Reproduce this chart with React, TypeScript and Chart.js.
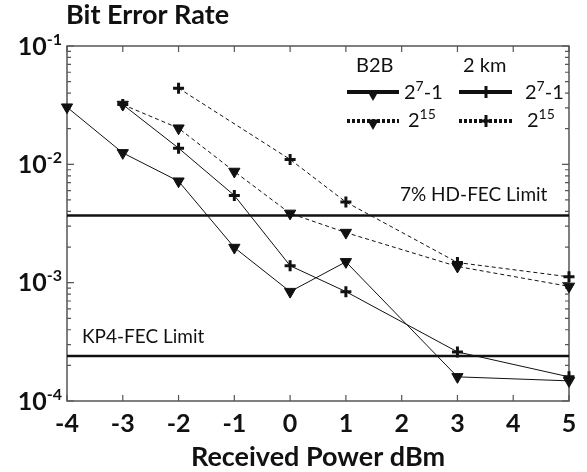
import React, { useEffect, useRef } from 'react';
import { Chart, registerables } from 'chart.js';

Chart.register(...registerables);

// ---- data ----
const powerB2B7 = [-4, -3, -2, -1, 0, 1, 3, 5];
const berB2B7 = [0.0304, 0.0125, 0.0072, 0.00198, 0.00084, 0.0015, 0.00016, 0.000148];

const power2km7 = [-3, -2, -1, 0, 1, 3, 5];
const ber2km7 = [0.032, 0.0137, 0.00546, 0.00139, 0.00084, 0.00026, 0.00016];

const powerB2B15 = [-3, -2, -1, 0, 1, 3, 5];
const berB2B15 = [0.032, 0.0202, 0.0087, 0.00385, 0.00265, 0.00137, 0.00093];

const power2km15 = [-2, 0, 1, 3, 5];
const ber2km15 = [0.044, 0.011, 0.0048, 0.00148, 0.00112];

const hdFecLimit = 0.0037;
const kp4FecLimit = 0.00024;

const xTicks = [-4, -3, -2, -1, 0, 1, 2, 3, 4, 5];
const xTickLabels = ['-4', '-3', '-2', '-1', '0', '1', '2', '3', '4', '5'];
const yDecades = [1e-4, 1e-3, 1e-2, 1e-1];
const yTickExponents = ['-4', '-3', '-2', '-1'];

const FONT = 'Lato, "Open Sans", sans-serif';
const INK = '#111111';
const FRAME = '#555555';

type Part = { text: string; sup?: boolean };

function drawRich(
  ctx: CanvasRenderingContext2D,
  parts: Part[],
  x: number,
  y: number,
  size: number,
  weight: string,
  align: 'left' | 'right' | 'center',
  supScale = 0.64
) {
  const supSize = size * supScale;
  const widths = parts.map((p) => {
    ctx.font = `${weight} ${p.sup ? supSize : size}px ${FONT}`;
    return ctx.measureText(p.text).width;
  });
  const total = widths.reduce((a, b) => a + b, 0);
  let cx = align === 'right' ? x - total : align === 'center' ? x - total / 2 : x;
  ctx.textAlign = 'left';
  ctx.textBaseline = 'alphabetic';
  parts.forEach((p, i) => {
    ctx.font = `${weight} ${p.sup ? supSize : size}px ${FONT}`;
    ctx.fillText(p.text, cx, p.sup ? y - size * 0.4 : y);
    cx += widths[i];
  });
}

function downTriangle(ctx: CanvasRenderingContext2D, x: number, y: number, r: number) {
  ctx.beginPath();
  for (let i = 0; i < 3; i++) {
    const a = Math.PI + (i * 2 * Math.PI) / 3;
    const px = x + Math.sin(a) * r;
    const py = y - Math.cos(a) * r;
    if (i === 0) ctx.moveTo(px, py);
    else ctx.lineTo(px, py);
  }
  ctx.closePath();
  ctx.fill();
}

function plusMark(ctx: CanvasRenderingContext2D, x: number, y: number, r: number, w: number) {
  ctx.lineWidth = w;
  ctx.beginPath();
  ctx.moveTo(x - r, y);
  ctx.lineTo(x + r, y);
  ctx.moveTo(x, y - r);
  ctx.lineTo(x, y + r);
  ctx.stroke();
}

const framePlugin = {
  id: 'frame',
  beforeDatasetsDraw(chart: any) {
    const ctx: CanvasRenderingContext2D = chart.ctx;
    const { left, right, top, bottom } = chart.chartArea;
    const xs = chart.scales.x;
    const ys = chart.scales.y;
    ctx.save();
    ctx.strokeStyle = FRAME;
    ctx.lineWidth = 1.5;
    ctx.strokeRect(left, top, right - left, bottom - top);

    ctx.lineWidth = 1.2;
    ctx.beginPath();
    xTicks.forEach((v) => {
      const px = xs.getPixelForValue(v);
      ctx.moveTo(px, bottom);
      ctx.lineTo(px, bottom - 6);
      ctx.moveTo(px, top);
      ctx.lineTo(px, top + 6);
    });
    yDecades.forEach((d, i) => {
      const py = ys.getPixelForValue(d);
      ctx.moveTo(left, py);
      ctx.lineTo(left + 7, py);
      ctx.moveTo(right, py);
      ctx.lineTo(right - 7, py);
      if (i < yDecades.length - 1) {
        for (let m = 2; m <= 9; m++) {
          const pm = ys.getPixelForValue(d * m);
          ctx.moveTo(left, pm);
          ctx.lineTo(left + 4, pm);
          ctx.moveTo(right, pm);
          ctx.lineTo(right - 4, pm);
        }
      }
    });
    ctx.stroke();
    ctx.restore();
  },
};

const decorPlugin = {
  id: 'decor',
  afterDraw(chart: any) {
    const ctx: CanvasRenderingContext2D = chart.ctx;
    const { left, right } = chart.chartArea;
    const xs = chart.scales.x;
    const ys = chart.scales.y;
    ctx.save();

    ctx.fillStyle = INK;
    // x tick labels
    ctx.font = `bold 25px ${FONT}`;
    ctx.textAlign = 'center';
    ctx.textBaseline = 'alphabetic';
    xTicks.forEach((v, i) => {
      ctx.fillText(xTickLabels[i], xs.getPixelForValue(v), 432);
    });

    // y tick labels with superscripts
    yDecades.forEach((d, i) => {
      const py = ys.getPixelForValue(d);
      drawRich(ctx, [{ text: '10' }, { text: yTickExponents[i], sup: true }], 62, py + 8.5, 25, 'bold', 'right');
    });

    // titles
    ctx.font = `bold 27px ${FONT}`;
    ctx.textAlign = 'left';
    ctx.fillText('Bit Error Rate', 66, 24);
    ctx.font = `bold 27px ${FONT}`;
    ctx.textAlign = 'center';
    ctx.fillText('Received Power dBm', (left + right) / 2, 466);

    // limit annotations
    ctx.font = `19px ${FONT}`;
    ctx.textAlign = 'left';
    ctx.fillText('7% HD-FEC Limit', 400, 201);
    ctx.fillText('KP4-FEC Limit', 82, 343);

    // legend
    ctx.font = `20px ${FONT}`;
    ctx.fillText('B2B', 356, 72);
    ctx.fillText('2 km', 463, 72);

    ctx.strokeStyle = INK;
    ctx.fillStyle = INK;
    // row 1 solid
    ctx.lineWidth = 4;
    ctx.setLineDash([]);
    ctx.beginPath();
    ctx.moveTo(347, 92);
    ctx.lineTo(399, 92);
    ctx.moveTo(459, 92);
    ctx.lineTo(512, 92);
    ctx.stroke();
    downTriangle(ctx, 373, 94, 7);
    plusMark(ctx, 486, 92, 6, 3);
    drawRich(ctx, [{ text: '2' }, { text: '7', sup: true }, { text: '-1' }], 404, 99, 20, 'normal', 'left', 0.7);
    drawRich(ctx, [{ text: '2' }, { text: '7', sup: true }, { text: '-1' }], 525, 99, 20, 'normal', 'left', 0.7);

    // row 2 dashed
    ctx.lineWidth = 4;
    ctx.setLineDash([3, 2]);
    ctx.beginPath();
    ctx.moveTo(347, 121);
    ctx.lineTo(399, 121);
    ctx.moveTo(459, 121);
    ctx.lineTo(512, 121);
    ctx.stroke();
    ctx.setLineDash([]);
    downTriangle(ctx, 373, 123, 7);
    plusMark(ctx, 486, 121, 6, 3);
    drawRich(ctx, [{ text: '2' }, { text: '15', sup: true }], 408, 127, 20, 'normal', 'left', 0.7);
    drawRich(ctx, [{ text: '2' }, { text: '15', sup: true }], 527, 127, 20, 'normal', 'left', 0.7);

    ctx.restore();
  },
};

function pts(xs: number[], ys: number[]) {
  return xs.map((x, i) => ({ x, y: ys[i] }));
}

export default function App() {
  const ref = useRef<HTMLCanvasElement | null>(null);

  useEffect(() => {
    document.body.style.margin = '0';
    if (!ref.current) return;
    const tri = {
      pointStyle: 'triangle' as const,
      rotation: 180,
      pointRadius: 6.5,
      pointBackgroundColor: INK,
      pointBorderColor: INK,
      pointBorderWidth: 1,
    };
    const plus = {
      pointStyle: 'cross' as const,
      pointRadius: 5.5,
      pointBackgroundColor: INK,
      pointBorderColor: INK,
      pointBorderWidth: 3,
    };
    const chart = new Chart(ref.current, {
      type: 'line',
      data: {
        datasets: [
          {
            label: 'HD-FEC',
            data: pts([-4, 5], [hdFecLimit, hdFecLimit]),
            borderColor: INK,
            borderWidth: 2.5,
            pointRadius: 0,
          },
          {
            label: 'KP4-FEC',
            data: pts([-4, 5], [kp4FecLimit, kp4FecLimit]),
            borderColor: INK,
            borderWidth: 2.5,
            pointRadius: 0,
          },
          {
            label: 'B2B 2^7-1',
            data: pts(powerB2B7, berB2B7),
            borderColor: INK,
            borderWidth: 1,
            clip: false,
            ...tri,
          },
          {
            label: '2 km 2^7-1',
            data: pts(power2km7, ber2km7),
            borderColor: INK,
            borderWidth: 1,
            clip: false,
            ...plus,
          },
          {
            label: 'B2B 2^15',
            data: pts(powerB2B15, berB2B15),
            borderColor: INK,
            borderWidth: 1,
            borderDash: [4, 3],
            clip: false,
            ...tri,
          },
          {
            label: '2 km 2^15',
            data: pts(power2km15, ber2km15),
            borderColor: INK,
            borderWidth: 1,
            borderDash: [4, 3],
            clip: false,
            ...plus,
          },
        ],
      },
      options: {
        responsive: false,
        animation: false,
        layout: { padding: { top: 46, right: 18, left: 0, bottom: 0 } },
        plugins: { legend: { display: false }, tooltip: { enabled: false } },
        scales: {
          x: {
            type: 'linear',
            min: -4,
            max: 5,
            ticks: { display: false },
            grid: { display: false },
            border: { display: false },
            afterFit: (s: any) => {
              s.height = 71;
            },
          },
          y: {
            type: 'logarithmic',
            min: 1e-4,
            max: 1e-1,
            ticks: { display: false },
            grid: { display: false },
            border: { display: false },
            afterFit: (s: any) => {
              s.width = 67;
            },
          },
        },
      },
      plugins: [framePlugin, decorPlugin],
    });
    return () => chart.destroy();
  }, []);

  return (
    <div style={{ width: 587, height: 472 }}>
      <canvas ref={ref} width={587} height={472} />
    </div>
  );
}
